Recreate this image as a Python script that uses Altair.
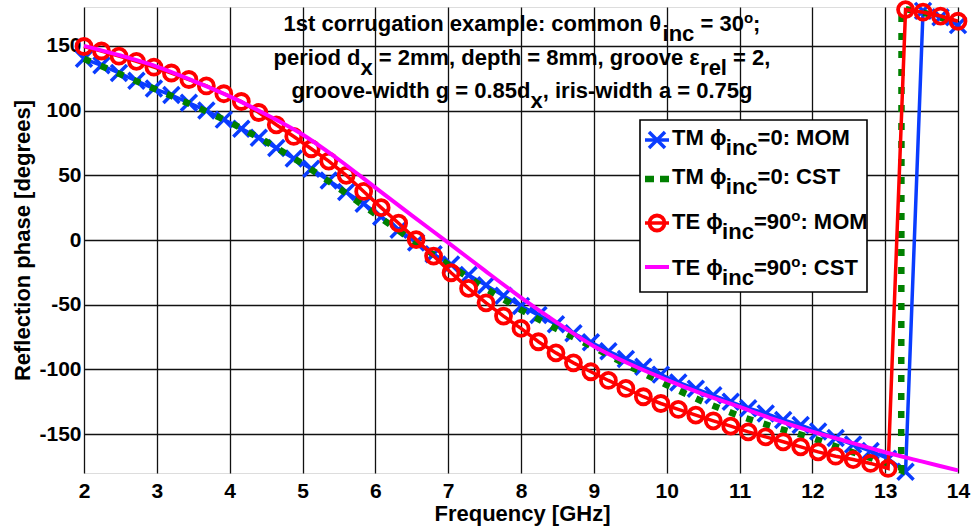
import altair as alt
import pandas as pd

# ---------------- data ----------------
f_mom = [2.00, 2.24, 2.48, 2.72, 2.96, 3.20, 3.44, 3.68, 3.92, 4.16,
         4.40, 4.64, 4.88, 5.12, 5.36, 5.60, 5.84, 6.08, 6.32, 6.56,
         6.80, 7.04, 7.28, 7.52, 7.76, 8.00, 8.24, 8.48, 8.72, 8.96,
         9.20, 9.44, 9.68, 9.92, 10.16, 10.40, 10.64, 10.88, 11.12, 11.36,
         11.60, 11.84, 12.08, 12.32, 12.56, 12.80, 13.04, 13.28, 13.52, 13.76, 14.00]

tm_mom = [140, 135, 129, 123, 117, 112, 106, 100, 93, 86,
          79, 71, 63, 55, 46, 37, 28, 18, 8, -2,
          -11, -19, -27, -35, -43, -51, -58, -65, -72, -79,
          -86, -92, -98, -104, -110, -115, -120, -125, -130, -134,
          -139, -143, -148, -153, -158, -163, -169, -179, 177, 172, 166]

te_mom = [149.5, 146, 142, 138, 133.5, 129, 124, 119, 113, 107,
          98.5, 89, 80, 70.5, 61, 50, 37.5, 25, 13, 0.3,
          -12.4, -25.3, -37.4, -48.5, -58.8, -68.3, -78.6, -87.2, -94.9, -101.8,
          -108.5, -114.7, -121.1, -126.3, -130.9, -135.3, -139.7, -143.8, -148.2, -152.1,
          -155.9, -159.8, -163.7, -167, -169.6, -172.6, -176.5, 178, 176, 173, 169]

f_cst_tm = [2.0, 2.5, 3.0, 3.5, 4.0, 4.5, 5.0, 5.5, 6.0, 6.5, 7.0, 7.5, 8.0, 8.5,
            9.0, 9.5, 10.0, 10.5, 11.0, 11.5, 12.0, 12.5, 13.0, 13.22, 13.225, 13.5, 14.0]
tm_cst = [140, 128, 116, 104, 91, 76, 59, 40, 20, 0, -19, -37, -54, -69,
          -83, -98, -112, -125, -136, -145, -153, -163, -172, -178, 179, 176, 168]

f_cst_te = [2.0, 2.5, 3.0, 3.5, 4.0, 4.5, 5.0, 5.5, 6.0, 6.5, 7.0, 7.5, 8.0, 8.5,
            9.0, 9.5, 10.0, 10.5, 11.0, 11.5, 12.0, 12.5, 13.0, 13.5, 14.0]
te_cst = [150, 142.5, 134, 123, 111, 97, 81.5, 62, 40.5, 19, -2, -23.5, -44.5, -64,
          -82, -96, -108, -119, -129, -139, -148, -156, -164, -171, -178]

x_ticks = [2, 3, 4, 5, 6, 7, 8, 9, 10, 11, 12, 13, 14]
y_ticks = [-150, -100, -50, 0, 50, 100, 150]

x_title = "Frequency [GHz]"
y_title = "Reflection phase [degrees]"

# rich-text pieces: (text, kind) kind: n = normal, sub = subscript, sup = superscript
note_lines = [
    [("1st corrugation example: common θ", "n"), ("inc", "sub"), (" = 30", "n"), ("o", "sup"), (";", "n")],
    [("period d", "n"), ("x", "sub"), (" = 2mm, depth = 8mm, groove ε", "n"), ("rel", "sub"), (" = 2,", "n")],
    [("groove-width g = 0.85d", "n"), ("x", "sub"), (", iris-width a = 0.75g", "n")],
]
legend_entries = [
    [("TM ϕ", "n"), ("inc", "sub"), ("=0: MOM", "n")],
    [("TM ϕ", "n"), ("inc", "sub"), ("=0: CST", "n")],
    [("TE ϕ", "n"), ("inc", "sub"), ("=90", "n"), ("o", "sup"), (": MOM", "n")],
    [("TE ϕ", "n"), ("inc", "sub"), ("=90", "n"), ("o", "sup"), (": CST", "n")],
]

# ---------------- styling / layout ----------------
FONT = "Liberation Sans"
BLUE, GREEN, RED, MAG = "#0a3cff", "#008000", "#ff0000", "#ff00ff"
W_PLOT, H_PLOT = 874, 466
PAD = {"left": 84, "top": 7, "right": 13, "bottom": 56}
FS = 22
SUP_FS = 15

# Arial-bold / Liberation-Sans-bold advance widths (1/1000 em)
WID = {" ": 278, ",": 278, "-": 333, ".": 278, ":": 333, ";": 333, "=": 584,
       "C": 722, "E": 667, "M": 833, "O": 778, "S": 667, "T": 611,
       "a": 556, "c": 556, "d": 611, "e": 556, "g": 611, "h": 611, "i": 278,
       "l": 278, "m": 889, "n": 611, "o": 611, "p": 611, "r": 389, "s": 556,
       "t": 333, "u": 611, "v": 556, "w": 778, "x": 556, "θ": 611, "φ": 722,
       "ϕ": 722, "ε": 490}
for d in "0123456789":
    WID[d] = 556


def tw(s, size):
    return sum(WID.get(ch, 556) for ch in s) * size / 1000.0


def seg_size(kind):
    return SUP_FS if kind == "sup" else FS


def layout_line(pieces, left, base, rows):
    x = left
    for txt, kind in pieces:
        size = seg_size(kind)
        lead = len(txt) - len(txt.lstrip(" "))
        stripped = txt.strip(" ")
        dy = 10 if kind == "sub" else (-8 if kind == "sup" else 0)
        rows.append({"px": x + tw(" " * lead, size), "py": base + dy, "txt": stripped, "fs": size})
        x += tw(txt, size)


def line_width(pieces):
    return sum(tw(t, seg_size(k)) for t, k in pieces)


text_rows = []
note_center = 522 - PAD["left"]
for pieces, base in zip(note_lines, [30.5, 64.5, 98]):
    layout_line(pieces, note_center - line_width(pieces) / 2, base - PAD["top"], text_rows)
for pieces, base in zip(legend_entries, [145, 183.5, 228.5, 275]):
    layout_line(pieces, 672 - PAD["left"], base - PAD["top"], text_rows)
text_df = pd.DataFrame(text_rows)

# ---------------- scales / axes ----------------
xscale = alt.Scale(domain=[2, 14], nice=False, zero=False)
yscale = alt.Scale(domain=[-180, 180], nice=False, zero=False)
xaxis = alt.Axis(values=x_ticks, title=x_title, grid=True, ticks=False, domain=False,
                 labelFont=FONT, labelFontWeight="bold", labelFontSize=21, labelColor="black",
                 labelPadding=7, labelExpr="'' + datum.value", labelFlush=False,
                 gridColor="#111111", gridWidth=1.3, gridOpacity=1,
                 titleFont=FONT, titleFontWeight="bold", titleFontSize=22, titleColor="black",
                 titleX=W_PLOT / 2 + 1, titleY=47, titleBaseline="alphabetic", titleAnchor="middle")
yaxis = alt.Axis(values=y_ticks, title=y_title, grid=True, ticks=False, domain=False,
                 labelFont=FONT, labelFontWeight="bold", labelFontSize=21, labelColor="black",
                 labelPadding=3, labelExpr="'' + datum.value", labelFlush=False,
                 gridColor="#111111", gridWidth=1.3, gridOpacity=1,
                 titleFont=FONT, titleFontWeight="bold", titleFontSize=22, titleColor="black",
                 titleX=-55, titleY=233, titleAngle=270, titleBaseline="alphabetic",
                 titleAnchor="middle")


def X(field):
    return alt.X(field, type="quantitative", scale=xscale, axis=xaxis)


def Y(field):
    return alt.Y(field, type="quantitative", scale=yscale, axis=yaxis)


mom = pd.DataFrame({"f": f_mom, "tm": tm_mom, "te": te_mom})
cst_tm_df = pd.DataFrame({"f": f_cst_tm, "v": tm_cst})
cst_te_df = pd.DataFrame({"f": f_cst_te, "v": te_cst})

XSHAPE = "M-1,-1L1,1M-1,1L1,-1"
X_SIZE, X_SW = 256, 3.5
C_SIZE, C_SW = 225, 3.8

blue_line = alt.Chart(mom).mark_line(color=BLUE, strokeWidth=3.5).encode(x=X("f"), y=Y("tm"))
blue_pts = alt.Chart(mom).mark_point(shape=XSHAPE, size=X_SIZE, color=BLUE, strokeWidth=X_SW,
                                     filled=False, opacity=1).encode(x=X("f"), y=Y("tm"))
green_line = alt.Chart(cst_tm_df).mark_line(color=GREEN, strokeWidth=6.5, strokeDash=[7, 11],
                                            strokeCap="butt").encode(x=X("f"), y=Y("v"))
red_line = alt.Chart(mom).mark_line(color=RED, strokeWidth=3.5).encode(x=X("f"), y=Y("te"))
red_pts = alt.Chart(mom).mark_point(shape="circle", size=C_SIZE, color=RED, strokeWidth=C_SW,
                                    filled=False, opacity=1).encode(x=X("f"), y=Y("te"))
mag_line = alt.Chart(cst_te_df).mark_line(color=MAG, strokeWidth=4, interpolate="monotone").encode(
    x=X("f"), y=Y("v"))

# ---------------- legend (pixel space) ----------------
lx = lambda v: v - PAD["left"]
ly = lambda v: v - PAD["top"]
sym_y = [140, 179, 223, 267]
box_df = pd.DataFrame({"x1": [lx(640)], "x2": [lx(867)], "y1": [ly(120)], "y2": [ly(292)]})
leg_box = alt.Chart(box_df).mark_rect(fill="white", stroke="black", strokeWidth=1.6).encode(
    x=alt.X("x1:Q", scale=None, axis=None), x2="x2:Q",
    y=alt.Y("y1:Q", scale=None, axis=None), y2="y2:Q")

solid_df = pd.DataFrame({"x1": [lx(645)] * 3, "x2": [lx(669)] * 3,
                         "y": [ly(sym_y[0]), ly(sym_y[2]), ly(sym_y[3])],
                         "c": [BLUE, RED, MAG], "w": [3.5, 3.5, 4]})
leg_solid = alt.Chart(solid_df).mark_rule().encode(
    x=alt.X("x1:Q", scale=None, axis=None), x2="x2:Q",
    y=alt.Y("y:Q", scale=None, axis=None),
    color=alt.Color("c:N", scale=None, legend=None),
    strokeWidth=alt.StrokeWidth("w:Q", scale=None, legend=None))
dot_df = pd.DataFrame({"x1": [lx(645)], "x2": [lx(669)], "y": [ly(sym_y[1])]})
leg_dot = alt.Chart(dot_df).mark_rule(color=GREEN, strokeWidth=6.5, strokeDash=[9, 6],
                                      strokeCap="butt").encode(
    x=alt.X("x1:Q", scale=None, axis=None), x2="x2:Q", y=alt.Y("y:Q", scale=None, axis=None))
bx_df = pd.DataFrame({"x": [lx(657)], "y": [ly(sym_y[0])]})
leg_bx = alt.Chart(bx_df).mark_point(shape=XSHAPE, size=X_SIZE, color=BLUE, strokeWidth=X_SW,
                                     filled=False, opacity=1).encode(
    x=alt.X("x:Q", scale=None, axis=None), y=alt.Y("y:Q", scale=None, axis=None))
rc_df = pd.DataFrame({"x": [lx(657)], "y": [ly(sym_y[2])]})
leg_rc = alt.Chart(rc_df).mark_point(shape="circle", size=C_SIZE, color=RED, strokeWidth=C_SW,
                                     filled=False, opacity=1).encode(
    x=alt.X("x:Q", scale=None, axis=None), y=alt.Y("y:Q", scale=None, axis=None))

texts = alt.Chart(text_df).mark_text(align="left", baseline="alphabetic", font=FONT,
                                     fontWeight="bold", color="black").encode(
    x=alt.X("px:Q", scale=None, axis=None), y=alt.Y("py:Q", scale=None, axis=None),
    text="txt:N", size=alt.Size("fs:Q", scale=None, legend=None))

chart = alt.layer(
    blue_line, blue_pts, green_line, red_line, red_pts, mag_line,
    leg_box, leg_solid, leg_dot, leg_bx, leg_rc, texts
).properties(
    width=W_PLOT, height=H_PLOT,
    autosize=alt.AutoSizeParams(type="none"),
    padding=PAD,
).configure_view(
    stroke="black", strokeWidth=2
).configure(background="white")

chart.save("out.html", embed_options={"renderer": "svg", "actions": False})
